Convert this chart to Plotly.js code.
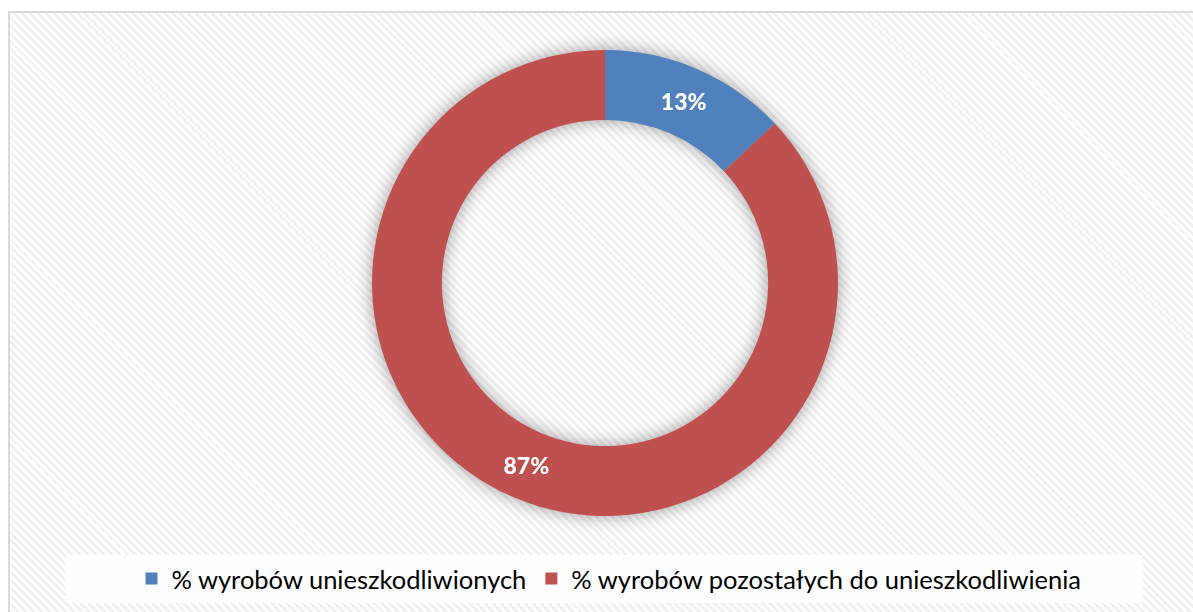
<!DOCTYPE html>
<html>
<head>
<meta charset="utf-8">
<script src="https://cdn.plot.ly/plotly-3.0.1.min.js"></script>
<style>
  html, body { margin:0; padding:0; background:#ffffff; }
  #wrap { position:relative; width:1193px; height:612px; overflow:hidden; }
  #bg { position:absolute; left:8px; top:11px; width:1200px; height:620px;
        border-left:2px solid #d9d9d9; border-top:2px solid #d9d9d9;
        background: repeating-linear-gradient(45deg, #ffffff 0px, #ffffff 2.8px, #f1f1f1 2.8px, #f1f1f1 5.6px); }
  #chart { position:absolute; left:0; top:0; width:1193px; height:612px; }
  #chart .pielayer { filter: drop-shadow(0px 0px 9px rgba(0,0,0,0.38)); }
</style>
</head>
<body>
<div id="wrap">
  <div id="bg"></div>
  <div id="chart"></div>
</div>
<script>
const categories = ["% wyrobów unieszkodliwionych", "% wyrobów pozostałych do unieszkodliwienia"];
const values = [13, 87];
const colors = ["#4F81BD", "#C0504D"];

const W = 1193, H = 612;
const cx = 605, cy = 283, R = 233;

const data = [{
  type: "pie",
  labels: categories,
  values: values,
  sort: false,
  direction: "clockwise",
  rotation: 0,
  hole: 0.70,
  marker: { colors: colors, line: { width: 0 } },
  textinfo: "percent",
  texttemplate: "%{percent:.0%}",
  textposition: "inside",
  insidetextorientation: "horizontal",
  textfont: { family: "Lato, 'Open Sans', sans-serif", size: 23, color: "#ffffff", weight: 900 },
  domain: { x: [(cx - R) / W, (cx + R) / W], y: [1 - (cy + R) / H, 1 - (cy - R) / H] },
  hoverinfo: "label+percent"
}];

const layout = {
  width: W, height: H,
  margin: { l: 0, r: 0, t: 0, b: 0 },
  paper_bgcolor: "rgba(0,0,0,0)",
  plot_bgcolor: "rgba(0,0,0,0)",
  showlegend: true,
  legend: {
    orientation: "h",
    x: 609 / W, xanchor: "center",
    y: 1 - 579 / H, yanchor: "middle",
    bgcolor: "rgba(0,0,0,0)",
    font: { family: "Lato, 'Open Sans', sans-serif", size: 25.5, color: "#000000" },
    itemclick: false, itemdoubleclick: false,
    traceorder: "normal"
  },
  shapes: [{
    type: "rect", xref: "paper", yref: "paper",
    x0: 66 / W, x1: 1143 / W, y0: 1 - 603 / H, y1: 1 - 555 / H,
    fillcolor: "rgba(255,255,255,0.85)", line: { width: 0 }, layer: "below"
  }]
};

Plotly.newPlot("chart", data, layout, { displayModeBar: false, staticPlot: true });
</script>
</body>
</html>
